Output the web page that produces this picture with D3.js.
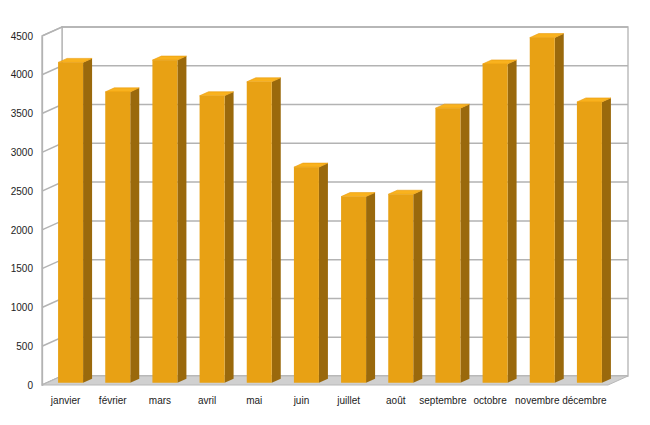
<!DOCTYPE html>
<html>
<head lang="fr">
	<meta charset="UTF-8">
	<title></title>
	<script src="https://cdn.jsdelivr.net/npm/d3@7"></script>
	<style>
		body { margin: 0; background: #fff; }
		text { font-family: "Liberation Sans", Arial, sans-serif; }
	</style>
</head>
<body>

<script>

	// data
	var months = ["janvier", "février", "mars", "avril", "mai", "juin", "juillet", "août",
		"septembre", "octobre", "novembre", "décembre"];
	var values = [4130, 3750, 4160, 3700, 3880, 2780, 2400, 2430, 3540, 4110, 4450, 3620];
	var yTicks = [0, 500, 1000, 1500, 2000, 2500, 3000, 3500, 4000, 4500];

	var W = 650, H = 425;
	var DX = 20, DY = -9;           // depth of the 3d box
	var F0 = 0.25, F1 = 0.7;        // bar front / back inside the depth

	var svg = d3.select("body").append("svg").attr("width", W).attr("height", H);

	var x = d3.scaleBand().domain(months).range([42, 608]).paddingInner(0.47).paddingOuter(0.235);
	var y = d3.scaleLinear().domain([0, 4500]).range([385, 36]);

	var x0 = x.range()[0], x1 = x.range()[1];
	var yb = y(0), yt = y(4500);

	function pts(a) {
		return a.map(function (p) { return p[0] + "," + p[1]; }).join(" ");
	}

	// walls
	svg.append("polygon")
		.attr("points", pts([[x0 + DX, yb + DY], [x1 + DX, yb + DY], [x1 + DX, yt + DY], [x0 + DX, yt + DY]]))
		.style("fill", "#fff").style("stroke", "#b3b3b3").style("stroke-width", 1.3);
	svg.append("polygon")
		.attr("points", pts([[x0, yb], [x0 + DX, yb + DY], [x0 + DX, yt + DY], [x0, yt]]))
		.style("fill", "#fff").style("stroke", "#b3b3b3").style("stroke-width", 1.3);

	// grid lines
	var grid = svg.append("g").style("stroke", "#b3b3b3").style("stroke-width", 1.5).style("fill", "none");
	yTicks.forEach(function (t) {
		var yy = y(t);
		grid.append("polyline")
			.attr("points", pts([[x0, yy], [x0 + DX, yy + DY], [x1 + DX, yy + DY]]));
	});

	// floor
	svg.append("polygon")
		.attr("points", pts([[x0, yb], [x1, yb], [x1 + DX, yb + DY], [x0 + DX, yb + DY]]))
		.style("fill", "#d0d0d0").style("stroke", "#b8b8b8").style("stroke-width", 1);

	// bars
	var bars = svg.append("g");
	months.forEach(function (m, i) {
		var bx = x(m) + DX * F0, by = DY * F0;
		var w = x.bandwidth();
		var ddx = DX * (F1 - F0), ddy = DY * (F1 - F0);
		var top = y(values[i]) + by, bot = yb + by;
		var g = bars.append("g");
		// side
		g.append("polygon")
			.attr("points", pts([[bx + w, bot], [bx + w + ddx, bot + ddy], [bx + w + ddx, top + ddy], [bx + w, top]]))
			.style("fill", "#9a690c");
		// top
		g.append("polygon")
			.attr("points", pts([[bx, top], [bx + w, top], [bx + w + ddx, top + ddy], [bx + ddx, top + ddy]]))
			.style("fill", "#f9b21e").style("stroke", "#e99a0a").style("stroke-width", 0.6);
		// front
		g.append("rect")
			.attr("x", bx).attr("y", top)
			.attr("width", w).attr("height", bot - top)
			.style("fill", "#e8a114");
	});

	// axes
	var yAxis = svg.append("g")
		.attr("transform", "translate(" + x0 + ",0)")
		.call(d3.axisLeft(y).tickValues(yTicks).tickFormat(d3.format("d")).tickSize(0).tickPadding(9));
	yAxis.select(".domain").attr("stroke", "#b3b3b3").attr("stroke-width", 1.3);
	yAxis.selectAll("text").style("font-size", "10px").attr("fill", "#222");

	var xAxis = svg.append("g")
		.attr("transform", "translate(0," + yb + ")")
		.call(d3.axisBottom(x).tickSize(0).tickPadding(12));
	xAxis.select(".domain").remove();
	xAxis.selectAll("text").style("font-size", "10px").attr("fill", "#222");

</script>

</body>
</html>
